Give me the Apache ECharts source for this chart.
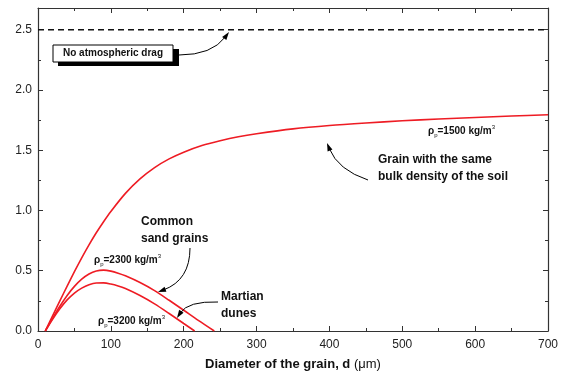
<!DOCTYPE html>
<html><head><meta charset="utf-8">
<script src="https://cdn.jsdelivr.net/npm/echarts@6/dist/echarts.min.js"></script>
<style>html,body{margin:0;padding:0;background:#fff}#c{width:562px;height:377px}</style>
</head><body><div id="c"></div>
<script>
// Diameter (µm) and values
const d1500 = [10,20,30,40,50,60,70,80,90,100,120,140,160,180,200,225,250,275,300,350,400,450,500,550,600,650,700];
const v1500 = [0,0.125,0.25,0.372,0.492,0.607,0.715,0.815,0.907,0.992,1.142,1.262,1.356,1.428,1.484,1.539,1.579,1.612,1.637,1.677,1.705,1.726,1.744,1.759,1.772,1.784,1.794];
const d2300 = [10,20,30,40,50,60,70,80,90,100,110,120,140,160,180,200,220,242];
const v2300 = [0,0.105,0.205,0.295,0.37,0.43,0.473,0.498,0.505,0.497,0.48,0.458,0.402,0.335,0.255,0.172,0.088,0];
const d3200 = [10,20,30,40,50,60,70,80,90,100,110,120,140,160,180,200,215];
const v3200 = [0,0.098,0.185,0.258,0.315,0.356,0.384,0.398,0.399,0.39,0.374,0.352,0.294,0.225,0.145,0.062,0];
const noDragX = [0,700];
const noDragY = [2.5,2.5];
const xTicks = {min:0,max:700,interval:100};
const yTicks = {min:0,max:2.68,interval:0.5};

const pairs = (xs,ys)=>xs.map((x,i)=>[x,ys[i]]);
const FONT = '"Liberation Sans", Arial, sans-serif';
const RED = '#ee1c24';
const axisLine = {show:true,onZero:false,lineStyle:{color:'#333',width:1.2}};
const tick = {show:true,inside:true,length:5,lineStyle:{color:'#333',width:1}};
const minor = {show:true,splitNumber:2,length:3,lineStyle:{color:'#333',width:1}};

const chart = echarts.init(document.getElementById('c'),null,{renderer:'canvas'});
const curve = (xs,ys)=>({type:'line',data:pairs(xs,ys),symbol:'none',smooth:0.3,lineStyle:{color:RED,width:1.6}});
chart.setOption({
  animation:false,
  grid:{left:38,right:14,top:8,bottom:46},
  xAxis:[
    {type:'value',min:xTicks.min,max:xTicks.max,interval:xTicks.interval,position:'bottom',
     axisLine:axisLine,axisTick:tick,minorTick:minor,splitLine:{show:false},
     axisLabel:{color:'#222',fontSize:12,fontFamily:FONT,margin:8},
     name:'{b|Diameter of the grain, d }{n|(μm)}',nameLocation:'middle',nameGap:27,
     nameTextStyle:{rich:{b:{fontFamily:FONT,fontWeight:'bold',fontSize:13,color:'#111'},n:{fontFamily:FONT,fontSize:13,color:'#111'}}}},
    {type:'value',min:xTicks.min,max:xTicks.max,interval:xTicks.interval,position:'top',
     axisLine:axisLine,axisTick:tick,minorTick:minor,splitLine:{show:false},axisLabel:{show:false}}
  ],
  yAxis:[
    {type:'value',min:yTicks.min,max:yTicks.max,interval:yTicks.interval,position:'left',
     axisLine:axisLine,axisTick:tick,minorTick:minor,splitLine:{show:false},
     axisLabel:{color:'#222',fontSize:12,fontFamily:FONT,margin:6,showMaxLabel:false,formatter:v=>v.toFixed(1)}},
    {type:'value',min:yTicks.min,max:yTicks.max,interval:yTicks.interval,position:'right',
     axisLine:axisLine,axisTick:tick,minorTick:minor,splitLine:{show:false},axisLabel:{show:false}}
  ],
  series:[
    {type:'line',data:pairs(noDragX,noDragY),symbol:'none',lineStyle:{color:'#111',width:1.5,type:[6,4]}},
    curve(d1500,v1500),curve(d2300,v2300),curve(d3200,v3200)
  ]
});

const rho = (val)=>({
  text:'{r|ρ}{s|p}{t|='+val+' kg/m}{u|3}',
  rich:{
    r:{fontFamily:FONT,fontWeight:'bold',fontSize:10,fill:'#111'},
    s:{fontFamily:FONT,fontSize:6,fill:'#111',padding:[8,0,0,0]},
    t:{fontFamily:FONT,fontWeight:'bold',fontSize:10,fill:'#111'},
    u:{fontFamily:FONT,fontSize:6,fill:'#111',padding:[0,0,8,0]}
  }
});
const bold = (t,size,align)=>({text:t,fontFamily:FONT,fontWeight:'bold',fontSize:size,fill:'#111',textAlign:align||'left',lineHeight:size+5});

// curved annotation arrows: start, control point, tip (pixels)
function arrow(s,c,e){
  const dx=e[0]-c[0], dy=e[1]-c[1], L=Math.hypot(dx,dy), ux=dx/L, uy=dy/L;
  const len=8, w=2.6;
  const bx=e[0]-ux*len, by=e[1]-uy*len;
  return [
    {type:'bezierCurve',shape:{x1:s[0],y1:s[1],cpx1:c[0],cpy1:c[1],x2:bx+ux*2,y2:by+uy*2},style:{stroke:'#000',lineWidth:1,fill:null},z:100},
    {type:'polygon',shape:{points:[[e[0],e[1]],[bx-uy*w,by+ux*w],[bx+uy*w,by-ux*w]]},style:{fill:'#000'},z:100}
  ];
}

chart.setOption({graphic:[
  {type:'rect',shape:{x:58,y:49,width:121,height:17},style:{fill:'#000'},z:100},
  {type:'rect',shape:{x:53,y:45,width:120,height:17},style:{fill:'#fff',stroke:'#000',lineWidth:1},z:101},
  {type:'text',x:113,y:53.5,style:Object.assign(bold('No atmospheric drag',10,'center'),{textVerticalAlign:'middle'}),z:102},
  ...arrow([179,55],[212,55],[229,32]),
  {type:'text',x:428,y:124,style:rho('1500'),z:102},
  {type:'text',x:378,y:151,style:bold('Grain with the same\nbulk density of the soil',12),z:102},
  ...arrow([368,180],[338,170],[327,143]),
  {type:'text',x:141,y:213,style:bold('Common\nsand grains',12),z:102},
  ...arrow([190,248],[190,280],[158,292]),
  {type:'text',x:94,y:253,style:rho('2300'),z:102},
  {type:'text',x:221,y:288,style:bold('Martian\ndunes',12),z:102},
  ...arrow([218,302],[188,301],[177,318]),
  {type:'text',x:98,y:314,style:rho('3200'),z:102}
]});
</script></body></html>
